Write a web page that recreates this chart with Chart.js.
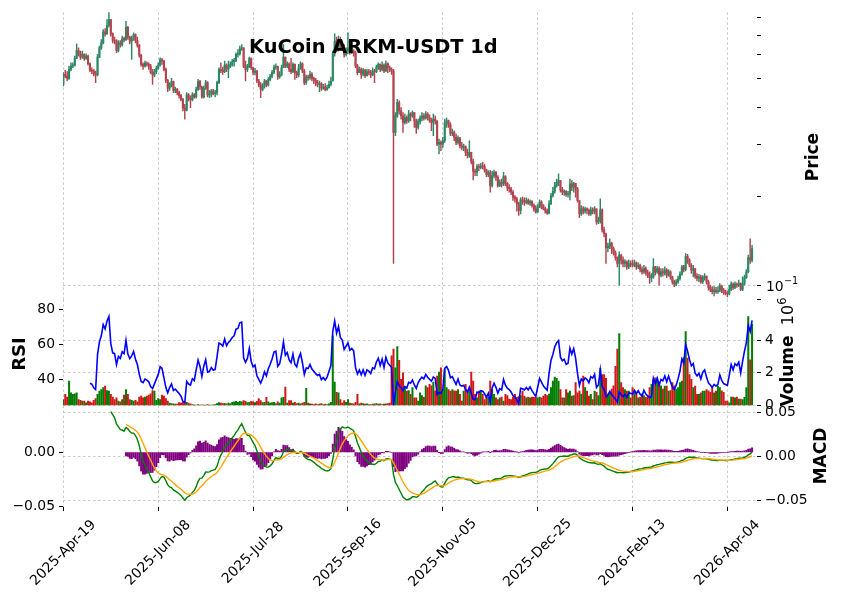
<!DOCTYPE html>
<html>
<head>
<meta charset="utf-8">
<script src="https://cdn.jsdelivr.net/npm/chart.js@4.4.1/dist/chart.umd.min.js"></script>
<style>
  html, body { margin: 0; padding: 0; background: #fff; }
  #wrap { position: relative; width: 841px; height: 598px; }
  #wrap canvas { position: absolute; left: 0; top: 0; }
</style>
</head>
<body>
<div id="wrap">
  <canvas id="price" width="841" height="598"></canvas>
  <canvas id="vol" width="841" height="598"></canvas>
  <canvas id="macd" width="841" height="598"></canvas>
</div>
<script>
// ---- data (KuCoin ARKM-USDT, daily, 2025-04-19 .. 2026-04-17) ----
const titleText = 'KuCoin ARKM-USDT 1d';
const xTickIndex = [0, 50, 100, 150, 200, 250, 300, 350];
const xTickLabels = ['2025-Apr-19', '2025-Jun-08', '2025-Jul-28', '2025-Sep-16',
  '2025-Nov-05', '2025-Dec-25', '2026-Feb-13', '2026-Apr-04'];

const firstOpen = 0.4776;
const closes = [
  .5160,.5094,.5003,.5364,.5503,.5545,.5839,.6211,.6053,.5899,
  .6022,.5839,.5945,.5603,.5322,.5295,.5187,.5133,.5899,.6340,
  .6591,.7175,.7065,.7555,.7892,.7065,.6710,.6676,.6211,.6591,
  .6506,.6814,.6745,.7438,.6886,.6676,.6814,.7029,.6710,.6473,
  .5991,.5574,.5503,.5632,.5574,.5489,.5241,.5133,.5268,.5405,
  .5545,.5779,.5719,.5364,.4926,.4631,.4776,.4876,.4559,.4595,
  .4478,.4376,.4242,.3968,.3906,.4398,.4286,.4242,.4398,.4331,
  .4595,.4876,.4679,.4331,.4631,.4838,.4398,.4421,.4536,.4444,
  .4467,.4838,.5350,.5322,.5268,.5545,.5378,.5503,.5574,.5690,
  .5749,.6022,.6053,.6307,.6340,.5503,.5364,.5489,.5839,.5433,
  .5241,.5295,.4901,.4752,.4595,.4715,.4901,.4752,.4952,.5081,
  .5241,.5461,.5489,.5055,.5133,.5433,.5899,.5503,.5603,.5364,
  .5268,.5574,.5227,.5133,.5433,.5603,.5295,.4838,.5055,.5029,
  .5160,.5003,.4926,.4838,.4776,.4801,.4631,.4679,.4595,.4655,
  .4776,.4901,.6053,.6676,.6340,.6763,.6422,.6340,.6022,.6179,
  .6340,.6100,.6179,.6100,.5503,.5227,.5364,.5160,.5322,.5094,
  .5268,.5227,.5133,.5295,.5268,.5461,.5574,.5364,.5545,.5295,
  .5603,.5433,.5364,.5295,.3288,.3739,.4145,.3886,.3739,.3551,
  .3691,.3597,.3788,.3739,.3837,.3597,.3416,.3579,.3672,.3739,
  .3672,.3788,.3691,.3616,.3551,.3644,.3597,.3004,.3043,.3004,
  .3082,.3551,.3597,.3488,.3262,.3288,.3163,.3043,.3147,.2965,
  .2927,.2942,.2816,.2745,.2816,.2627,.2432,.2413,.2521,.2508,
  .2534,.2521,.2457,.2370,.2413,.2177,.2351,.2413,.2321,.2177,
  .2233,.2205,.2333,.2216,.2149,.2121,.2067,.1989,.1963,.1889,
  .1794,.1948,.1938,.1914,.1938,.1899,.1924,.1865,.1817,.1771,
  .1841,.1914,.1865,.1817,.1785,.1757,.1889,.2015,.2083,.2177,
  .2233,.2262,.2105,.2067,.2083,.2030,.2041,.2205,.2149,.2216,
  .2121,.1938,.1748,.1817,.1785,.1817,.1794,.1748,.1803,.1785,
  .1817,.1640,.1661,.1803,.1545,.1498,.1345,.1359,.1394,.1335,
  .1291,.1245,.1189,.1268,.1220,.1189,.1204,.1158,.1189,.1183,
  .1173,.1195,.1158,.1173,.1135,.1114,.1143,.1105,.1086,.1066,
  .1072,.1158,.1114,.1143,.1086,.1114,.1105,.1129,.1086,.1114,
  .1072,.1031,.1013,.1031,.1058,.1094,.1158,.1135,.1258,.1220,
  .1173,.1129,.1143,.1078,.1058,.1072,.1031,.1066,.1078,.1031,
  .0988,.0972,.0955,.0967,.0955,.0962,.0998,.0967,.0948,.0943,
  .0938,.0972,.1013,.0988,.1013,.1005,.1018,.0972,.1018,.1066,
  .1114,.1245,.1220,.1335
];
const highs = [
  .5227,.5322,.5268,.5503,.5646,.5646,.5945,.6540,.6340,.6179,
  .6179,.6053,.6053,.5991,.5646,.5433,.5364,.5295,.6022,.6422,
  .6763,.7306,.7362,.7892,.8373,.7892,.7120,.6886,.6763,.6710,
  .6710,.6939,.6886,.7791,.7497,.6939,.6939,.7120,.7065,.6886,
  .6506,.6022,.5646,.5719,.5690,.5646,.5574,.5364,.5364,.5503,
  .5646,.5869,.5839,.5749,.5433,.4965,.4838,.5003,.4901,.4679,
  .4631,.4536,.4421,.4286,.4092,.4478,.4444,.4364,.4478,.4444,
  .4679,.4965,.4926,.4715,.4715,.4926,.4876,.4559,.4595,.4595,
  .4559,.4901,.5433,.5646,.5461,.5719,.5603,.5719,.5690,.5794,
  .5839,.6100,.6259,.6422,.6506,.6340,.5719,.5574,.5899,.5869,
  .5461,.5405,.5322,.4965,.4838,.4801,.4965,.4926,.5029,.5160,
  .5322,.5545,.5603,.5503,.5268,.5545,.6506,.5899,.5690,.5646,
  .5839,.5646,.5603,.5295,.5574,.5690,.5646,.5364,.5133,.5133,
  .5295,.5227,.5055,.5003,.4926,.4901,.4838,.4776,.4801,.4752,
  .4901,.5055,.6179,.7065,.6886,.6939,.6886,.6591,.6506,.6340,
  .7120,.6422,.6340,.6259,.6179,.5574,.5461,.5433,.5405,.5364,
  .5364,.5364,.5322,.5433,.5364,.5545,.5646,.5603,.5690,.5603,
  .5719,.5646,.5503,.5433,.5364,.3837,.4253,.4199,.3988,.3837,
  .3788,.3739,.3906,.3837,.3886,.3837,.3644,.3644,.3739,.3837,
  .3808,.3866,.3837,.3769,.3672,.3788,.3739,.3597,.3122,.3082,
  .3163,.3644,.3672,.3616,.3551,.3373,.3330,.3245,.3204,.3163,
  .3043,.3004,.2965,.2890,.3082,.2816,.2675,.2476,.2561,.2574,
  .2587,.2607,.2574,.2476,.2444,.2444,.2432,.2457,.2432,.2351,
  .2274,.2291,.2413,.2351,.2233,.2194,.2149,.2094,.2015,.1989,
  .1914,.1979,.1989,.1979,.1979,.1963,.1948,.1938,.1889,.1865,
  .1879,.1948,.1938,.1879,.1841,.1817,.1938,.2051,.2149,.2233,
  .2291,.2382,.2262,.2149,.2105,.2094,.2083,.2291,.2262,.2233,
  .2216,.2149,.1938,.1865,.1850,.1841,.1832,.1817,.1841,.1832,
  .1850,.1803,.1704,.1963,.1817,.1577,.1506,.1394,.1441,.1405,
  .1352,.1311,.1252,.1301,.1277,.1252,.1226,.1214,.1220,.1214,
  .1220,.1220,.1204,.1195,.1183,.1158,.1173,.1158,.1129,.1114,
  .1100,.1236,.1164,.1164,.1158,.1143,.1143,.1158,.1143,.1135,
  .1123,.1078,.1045,.1050,.1078,.1114,.1173,.1173,.1284,.1277,
  .1236,.1189,.1173,.1143,.1100,.1094,.1086,.1083,.1100,.1072,
  .1045,.1005,.0993,.0993,.0988,.0993,.1018,.1005,.0980,.0967,
  .0962,.1005,.1031,.1023,.1031,.1023,.1045,.1023,.1072,.1086,
  .1135,.1268,.1441,.1369
];
const lows = [
  .4715,.5029,.4901,.4965,.5295,.5433,.5503,.5839,.5945,.5794,
  .5839,.5749,.5794,.5545,.5268,.5187,.5094,.4838,.5094,.5869,
  .6259,.6540,.6939,.7029,.7438,.6939,.6591,.6540,.6100,.6147,
  .6373,.6422,.6642,.6710,.6763,.6540,.5794,.6710,.6591,.6373,
  .5899,.5503,.5364,.5461,.5503,.5364,.5187,.4776,.5055,.5187,
  .5364,.5503,.5574,.5295,.4838,.4513,.4559,.4679,.4478,.4478,
  .4398,.4286,.4199,.3886,.3644,.3886,.4199,.3988,.4199,.4286,
  .4286,.4559,.4595,.4286,.4286,.4595,.4331,.4308,.4331,.4398,
  .4331,.4398,.4801,.5227,.5160,.5227,.5268,.5029,.5433,.5503,
  .5503,.5690,.5899,.5991,.6211,.5433,.4901,.5268,.5433,.5364,
  .5133,.5133,.4838,.4679,.4308,.4536,.4631,.4679,.4715,.4901,
  .5029,.5187,.5364,.4965,.5003,.5094,.5433,.5433,.5433,.5268,
  .5187,.5227,.4965,.5029,.5055,.5364,.5227,.4752,.4776,.4926,
  .4965,.4901,.4801,.4715,.4679,.4513,.4559,.4595,.4536,.4559,
  .4631,.4715,.4901,.5945,.6179,.6179,.6307,.6211,.5899,.5945,
  .6053,.6022,.6053,.5945,.5433,.5133,.5227,.5003,.5094,.5029,
  .5094,.5133,.5029,.5094,.4838,.5227,.5364,.5268,.5295,.5227,
  .5268,.5227,.5268,.5160,.1189,.3204,.3691,.3788,.3644,.3288,
  .3506,.3524,.3551,.3597,.3691,.3416,.3262,.3373,.3506,.3597,
  .3616,.3644,.3616,.3551,.3330,.3204,.3506,.2965,.2780,.2853,
  .2927,.3043,.3416,.3416,.3204,.3204,.3082,.2988,.3004,.2912,
  .2868,.2853,.2745,.2696,.2710,.2574,.2274,.2351,.2351,.2444,
  .2476,.2476,.2413,.2333,.2333,.2067,.2149,.2309,.2262,.2149,
  .2160,.2149,.2177,.2177,.2094,.2067,.2030,.1938,.1914,.1785,
  .1726,.1748,.1879,.1865,.1889,.1879,.1865,.1841,.1785,.1757,
  .1771,.1832,.1817,.1803,.1757,.1739,.1748,.1879,.1989,.2051,
  .2149,.2177,.2067,.2030,.2015,.2000,.1989,.1948,.2094,.2067,
  .1989,.1914,.1695,.1726,.1748,.1757,.1748,.1726,.1726,.1748,
  .1748,.1611,.1619,.1627,.1517,.1460,.1189,.1301,.1335,.1284,
  .1268,.1220,.1158,.1005,.1183,.1158,.1158,.1135,.1143,.1158,
  .1158,.1158,.1135,.1143,.1114,.1094,.1100,.1086,.1066,.1018,
  .1031,.1058,.1086,.1100,.1005,.1072,.1078,.1086,.1066,.1078,
  .1050,.1013,.0993,.0998,.1018,.1045,.1086,.1114,.1123,.1189,
  .1158,.1100,.1072,.1058,.1039,.1031,.1018,.1018,.1045,.1013,
  .0967,.0955,.0938,.0924,.0943,.0943,.0955,.0948,.0936,.0931,
  .0919,.0931,.0962,.0972,.0977,.0988,.0993,.0962,.0962,.1005,
  .1058,.1105,.1189,.1204
];
// volume in millions of ARKM
const volumeM = [
  .37,.68,.51,1.50,.78,.68,.72,.78,.37,.31,
  .27,.27,.16,.27,.23,.16,.31,.43,.68,.88,
  .98,1.09,1.19,.92,.88,.68,.51,.37,.47,.27,
  .23,.37,.64,.98,.68,.37,.31,.27,.31,.23,
  .51,.57,.47,.51,.57,.64,.72,.92,.88,.31,
  .43,.37,.64,.57,.43,.27,.15,.12,.10,.08,
  .08,.18,.15,.20,.22,.20,.15,.10,.05,.04,
  .03,.05,.03,.04,.02,.03,.05,.03,.02,.04,
  .05,.12,.18,.15,.12,.14,.10,.15,.12,.20,
  .22,.25,.20,.25,.22,.30,.25,.18,.20,.25,
  .22,.18,.25,.43,.30,.18,.20,.50,.22,.15,
  .18,.20,.12,.22,.15,.47,.50,1.13,.15,.30,
  .30,.15,.20,.12,.15,.10,.15,.20,1.05,.15,
  .10,.08,.06,.10,.05,.08,.12,.05,.08,.06,
  .10,.20,4.27,1.44,.80,.78,.37,.15,.30,.20,
  .37,.15,.12,.10,.20,.68,.10,.15,.12,.08,
  .10,.06,.05,.08,.10,.12,.08,.10,.06,.08,
  .10,.12,.15,3.04,3.45,2.30,3.60,2.77,1.60,2.00,
  1.09,.88,.92,.68,1.09,.47,.47,.27,.78,.60,
  .50,1.20,1.10,1.30,1.20,1.44,.90,1.80,2.05,2.30,
  1.00,2.20,1.09,.98,.88,.98,.90,.88,.98,.68,
  .27,.88,1.29,.80,1.00,2.05,1.50,.68,.47,.88,
  .88,.68,.37,.51,.50,1.50,.98,.68,.47,.37,
  .47,.51,.27,.68,.60,.40,.37,.51,.68,.50,
  .55,.60,.88,.57,.47,.51,.47,.51,.50,.51,
  .47,.51,.47,.57,.68,.60,.70,1.09,1.50,1.74,
  1.66,1.50,.98,.47,.47,.98,.78,.88,.57,.60,
  1.40,.78,.90,.70,1.80,1.09,.88,.57,.68,.37,
  .88,.80,.60,2.28,1.90,1.90,1.66,.70,.80,1.00,
  1.20,2.40,3.45,4.40,1.40,1.09,.98,.88,.88,.47,
  1.09,.88,.78,.47,.51,.72,.60,.50,.60,1.09,
  1.29,1.60,1.70,1.50,1.29,1.20,1.00,1.19,1.19,.88,
  .92,1.40,1.20,1.00,1.10,1.40,1.50,2.93,4.53,2.90,
  1.90,1.60,1.09,1.19,.68,.68,.78,.88,.88,.98,
  .90,.80,1.09,.78,.88,1.19,1.09,.90,.80,.27,
  .27,.16,.51,.51,.47,.51,.40,.40,.37,.50,
  1.09,5.44,2.79,4.98
];
const priceTicks = [0.09, 0.1, 0.2, 0.3, 0.4, 0.5, 0.6, 0.7, 0.8];
const rsiTicks = [40, 60, 80];
const volTicks = [0, 2, 4];
const histTicks = [-0.05, 0];
const macdTicks = [-0.05, 0, 0.05];

// ---- indicators ----
function emaCalc(v, span, start) {
  const a = 2 / (span + 1);
  const out = new Array(v.length).fill(null);
  let e = null;
  for (let i = start; i < v.length; i++) {
    e = e === null ? v[i] : a * v[i] + (1 - a) * e;
    out[i] = e;
  }
  return out;
}
// Wilder-style RSI (exponential smoothing, alpha = 1/n)
function rsiCalc(c, n) {
  const out = new Array(c.length).fill(null);
  const a = 1 / n;
  let ag = 0, al = 0;
  for (let i = 1; i < c.length; i++) {
    const d = c[i] - c[i - 1];
    const g = Math.max(d, 0), l = Math.max(-d, 0);
    if (i === 1) { ag = g; al = l; } else { ag = a * g + (1 - a) * ag; al = a * l + (1 - a) * al; }
    if (i >= n) out[i] = al === 0 ? 100 : 100 - 100 / (1 + ag / al);
  }
  return out;
}
const opens = closes.map((c, i) => i === 0 ? firstOpen : closes[i - 1]);
const isUp = closes.map((c, i) => c >= opens[i]);
const rsi = rsiCalc(closes, 14);
const ema12 = emaCalc(closes, 12, 0);
const ema26 = emaCalc(closes, 26, 0);
const macd = closes.map((c, i) => i >= 25 ? ema12[i] - ema26[i] : null);
const signalRaw = emaCalc(macd, 9, 25);
const signal = signalRaw.map((v, i) => i >= 33 ? v : null);
const hist = macd.map((v, i) => i >= 33 ? v - signal[i] : null);

// ---- layout ----
const LEFT = 63, RIGHT = 757, AXW = 60;
const P_TOP = 11.03, P_BOT = 299.5, V_BOT = 405.5, M_BOT = 507;
const X_MIN = -0.2, X_MAX = 365.6;
const GRID = '#bdbdbd';
const DASH = [2.5, 2.5];
const FONT = "'DejaVu Sans', sans-serif";

Chart.defaults.font.family = FONT;
Chart.defaults.font.size = 13.9;
Chart.defaults.color = '#000';

function xAxis(drawTicks) {
  return {
    type: 'linear', min: X_MIN, max: X_MAX, offset: false,
    afterBuildTicks: s => { s.ticks = xTickIndex.map(v => ({ value: v })); },
    afterFit: s => { s.height = 0; },
    ticks: { display: false },
    grid: { offset: false, color: GRID, lineWidth: 0.8, drawTicks: drawTicks, tickLength: 4,
            tickColor: '#000', tickWidth: 1, tickBorderDash: [] },
    border: { display: false, dash: DASH }
  };
}
function yAxis(type, pos, min, max, ticks, fmt, gridColor) {
  return {
    type: type, position: pos, min: min, max: max, offset: false,
    afterBuildTicks: s => { s.ticks = ticks.map(v => ({ value: v })); },
    afterFit: s => { s.width = AXW; },
    ticks: { callback: fmt, padding: 4, autoSkip: false, maxRotation: 0 },
    grid: { color: gridColor, lineWidth: 0.8, drawOnChartArea: true, tickLength: 4,
            tickColor: '#000', tickWidth: 1, tickBorderDash: [] },
    border: { display: false, dash: DASH }
  };
}
const base = {
  responsive: false, animation: false, devicePixelRatio: 1, events: [],
  plugins: { legend: { display: false }, tooltip: { enabled: false } }
};
const idx = closes.map((c, i) => i);
const upCol = '#2c8864', downCol = '#b5434e';

// ---- price panel ----
new Chart(document.getElementById('price'), {
  type: 'bar',
  data: {
    datasets: [
      { data: idx.map(i => ({ x: i, y: [Math.min(lows[i], opens[i], closes[i]), Math.max(highs[i], opens[i], closes[i])] })),
        backgroundColor: isUp.map(u => u ? upCol : downCol), barThickness: 0.8, grouped: false, order: 1 },
      { data: idx.map(i => ({ x: i, y: [opens[i], closes[i]] })),
        backgroundColor: isUp.map(u => u ? upCol : downCol), barThickness: 1.45, minBarLength: 0.8, grouped: false, order: 0 }
    ]
  },
  options: Object.assign({}, base, {
    layout: { padding: { left: LEFT, right: 841 - RIGHT - AXW, top: P_TOP, bottom: 598 - P_BOT } },
    scales: {
      x: xAxis(false),
      y: yAxis('logarithmic', 'right', 0.0899, 0.835, priceTicks, () => '',
        c => (c.tick && c.tick.value === 0.1) ? GRID : 'rgba(0,0,0,0)')
    }
  })
});

// ---- volume + RSI panel ----
new Chart(document.getElementById('vol'), {
  type: 'bar',
  data: {
    datasets: [
      { type: 'line', data: idx.filter(i => rsi[i] !== null).map(i => ({ x: i, y: rsi[i] })),
        yAxisID: 'yR', borderColor: '#0000ff', borderWidth: 1.6, pointRadius: 0, tension: 0, order: 0 },
      { data: idx.map(i => ({ x: i, y: volumeM[i] })), yAxisID: 'yV',
        backgroundColor: isUp.map(u => u ? '#007d00' : '#d01818'), barThickness: 1.35, grouped: false, order: 1 }
    ]
  },
  options: Object.assign({}, base, {
    layout: { padding: { left: LEFT - AXW, right: 841 - RIGHT - AXW, top: P_BOT, bottom: 598 - V_BOT } },
    scales: {
      x: xAxis(false),
      yR: yAxis('linear', 'left', 25.14, 85.43, rsiTicks, v => String(v), 'rgba(0,0,0,0)'),
      yV: yAxis('linear', 'right', 0, 6.49, volTicks, v => String(v), GRID)
    }
  })
});

// ---- MACD panel + texts ----
const minus = s => s.replace('-', '\u2212');
const textPlugin = {
  id: 'texts',
  afterDraw(chart) {
    const ctx = chart.ctx;
    ctx.save();
    ctx.fillStyle = '#000';
    ctx.font = 'bold 19.4px ' + FONT;
    ctx.textAlign = 'center';
    ctx.textBaseline = 'alphabetic';
    ctx.fillText(titleText, 373.3, 53.3);

    // price axis label 10^-1 (mathtext look)
    ctx.textAlign = 'left';
    ctx.font = '13.9px ' + FONT;
    ctx.fillText('10', 766, 291);
    ctx.font = '9.7px ' + FONT;
    ctx.fillText('\u22121', 784, 284);

    const xs = chart.scales.x;
    ctx.font = '13.9px ' + FONT;
    xTickIndex.forEach((v, k) => {
      const px = xs.getPixelForValue(v);
      ctx.save();
      ctx.translate(px, 553);
      ctx.rotate(-Math.PI / 4);
      ctx.textAlign = 'center';
      ctx.textBaseline = 'middle';
      ctx.fillText(xTickLabels[k], 0, 0);
      ctx.restore();
    });

    const vtext = (parts, x, y) => {
      ctx.save();
      ctx.translate(x, y);
      ctx.rotate(-Math.PI / 2);
      ctx.textBaseline = 'middle';
      let total = 0;
      parts.forEach(p => { ctx.font = p.font; total += ctx.measureText(p.t).width; });
      let cx = -total / 2;
      parts.forEach(p => {
        ctx.font = p.font; ctx.textAlign = 'left';
        ctx.fillText(p.t, cx, p.dy || 0);
        cx += ctx.measureText(p.t).width;
      });
      ctx.restore();
    };
    const B = 'bold 17px ' + FONT;
    vtext([{ t: 'Price', font: B }], 814, 157);
    vtext([{ t: 'RSI', font: 'bold 18px ' + FONT }], 20, 354);
    vtext([{ t: 'Volume', font: B }, { t: '  10', font: '16px ' + FONT }, { t: '6', font: '11.5px ' + FONT, dy: -6 }], 789, 352);
    vtext([{ t: 'MACD', font: B }], 822, 456);
    ctx.restore();
  }
};

new Chart(document.getElementById('macd'), {
  type: 'bar',
  data: {
    datasets: [
      { type: 'line', data: idx.filter(i => signal[i] !== null).map(i => ({ x: i, y: signal[i] })),
        yAxisID: 'yM', borderColor: '#ffa500', borderWidth: 1.4, pointRadius: 0, tension: 0, order: 0 },
      { type: 'line', data: idx.filter(i => macd[i] !== null).map(i => ({ x: i, y: macd[i] })),
        yAxisID: 'yM', borderColor: '#008000', borderWidth: 1.4, pointRadius: 0, tension: 0, order: 1 },
      { data: idx.filter(i => hist[i] !== null).map(i => ({ x: i, y: hist[i] })), yAxisID: 'yH',
        backgroundColor: '#800080', barThickness: 1.35, grouped: false, order: 2 }
    ]
  },
  options: Object.assign({}, base, {
    layout: { padding: { left: LEFT - AXW, right: 841 - RIGHT - AXW, top: V_BOT, bottom: 598 - M_BOT } },
    scales: {
      x: xAxis(true),
      yH: yAxis('linear', 'left', -0.0509, 0.0435, histTicks, v => minus(v.toFixed(2)), 'rgba(0,0,0,0)'),
      yM: yAxis('linear', 'right', -0.05795, 0.05795, macdTicks, v => minus(v.toFixed(2)), GRID)
    }
  }),
  plugins: [textPlugin]
});
</script>
</body>
</html>
